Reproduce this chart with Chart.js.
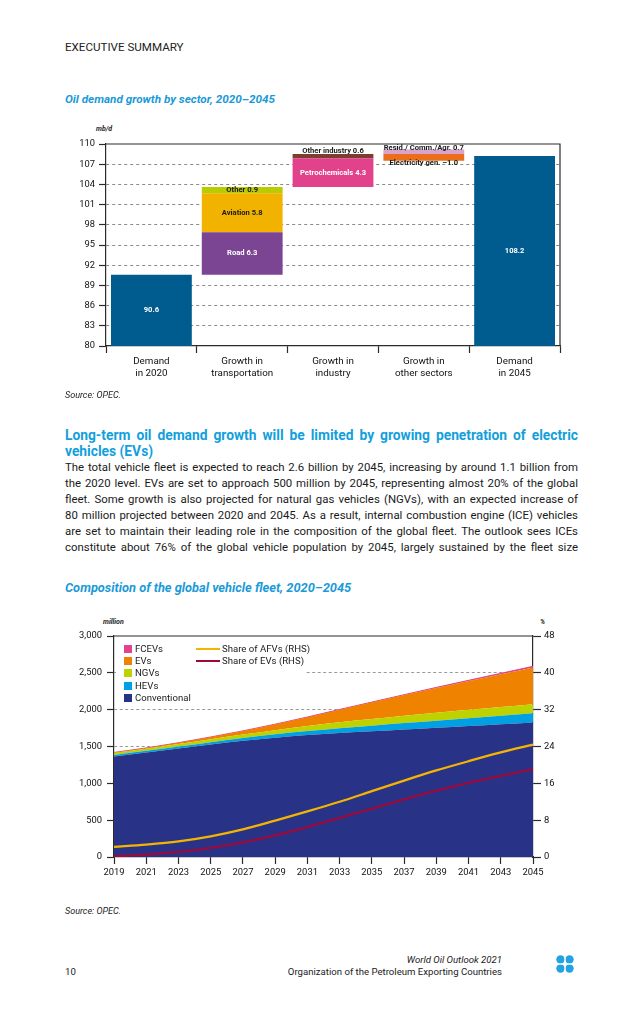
<!DOCTYPE html>
<html><head><meta charset="utf-8">
<script src="https://cdn.jsdelivr.net/npm/chart.js@4.4.1/dist/chart.umd.min.js"></script>
<style>
html,body{margin:0;padding:0;background:#fff;}
body{width:641px;height:1022px;position:relative;overflow:hidden;font-family:Roboto,"Noto Sans",sans-serif;color:#1a1a1a;}
.t{position:absolute;white-space:nowrap;}
.ttl{font-weight:700;font-style:italic;color:#1b9ad8;line-height:14px;}
.src{font-style:italic;font-size:9px;line-height:12px;color:#222;}
.unit{font-style:italic;font-weight:700;font-size:7px;line-height:10px;color:#222;}
.body{position:absolute;left:65px;width:513px;font-size:11.4px;line-height:16px;text-align:justify;text-align-last:justify;color:#1a1a1a;}
.head{position:absolute;left:65px;font-size:13.8px;font-weight:700;line-height:16px;color:#12a0dc;}
#c1wrap{position:absolute;left:0;top:120px;width:641px;height:270px;}
#c2wrap{position:absolute;left:0;top:600px;width:641px;height:290px;}
#legend{position:absolute;left:116px;top:637px;width:190px;height:68px;background:#fff;font-size:9.6px;color:#1a1a1a;}
.li{position:absolute;line-height:12px;white-space:nowrap;}
.sw{position:absolute;width:8px;height:8px;}
.ln{position:absolute;width:24px;height:2.6px;}
</style>
</head><body>
<div class="t" style="left:65px;top:40px;font-size:11.6px;line-height:14px;color:#222;">EXECUTIVE SUMMARY</div>
<div class="t ttl" style="left:65px;top:92px;font-size:11.7px;">Oil demand growth by sector, 2020–2045</div>
<div class="t unit" style="left:96px;top:124px;">mb/d</div>
<div id="c1wrap"><canvas id="c1"></canvas></div>
<div class="t src" style="left:65px;top:389px;">Source: OPEC.</div>

<div class="head" style="top:427px;width:513px;text-align:justify;text-align-last:justify;">Long-term oil demand growth will be limited by growing penetration of electric</div>
<div class="head" style="top:443px;">vehicles (EVs)</div>
<div class="body" style="top:459px;">The total vehicle fleet is expected to reach 2.6 billion by 2045, increasing by around 1.1 billion from</div>
<div class="body" style="top:475px;">the 2020 level. EVs are set to approach 500 million by 2045, representing almost 20% of the global</div>
<div class="body" style="top:491px;">fleet. Some growth is also projected for natural gas vehicles (NGVs), with an expected increase of</div>
<div class="body" style="top:507px;">80 million projected between 2020 and 2045. As a result, internal combustion engine (ICE) vehicles</div>
<div class="body" style="top:523px;">are set to maintain their leading role in the composition of the global fleet. The outlook sees ICEs</div>
<div class="body" style="top:539px;">constitute about 76% of the global vehicle population by 2045, largely sustained by the fleet size</div>

<div class="t ttl" style="left:65px;top:581px;font-size:12.8px;">Composition of the global vehicle fleet, 2020–2045</div>
<div class="t unit" style="left:103px;top:617px;">million</div>
<div class="t unit" style="left:540px;top:617px;">%</div>
<div id="c2wrap"><canvas id="c2"></canvas></div>
<div id="legend"></div>
<div class="t src" style="left:65px;top:905px;">Source: OPEC.</div>

<div class="t" style="right:139px;top:954px;font-size:9.6px;font-style:italic;line-height:12px;color:#222;">World Oil Outlook 2021</div>
<div class="t" style="right:139px;top:966px;font-size:9.6px;line-height:12px;color:#222;">Organization of the Petroleum Exporting Countries</div>
<div class="t" style="left:65px;top:966px;font-size:9.6px;line-height:12px;color:#222;">10</div>
<svg style="position:absolute;left:556px;top:955px;" width="18" height="18" viewBox="0 0 18 18">
 <g fill="#22a3e2"><circle cx="4.5" cy="4.5" r="4.2"/><circle cx="13.5" cy="4.5" r="4.2"/><circle cx="4.5" cy="13.5" r="4.2"/><circle cx="13.5" cy="13.5" r="4.2"/></g>
 <g stroke="#fff" stroke-width="1.2"><line x1="9" y1="0" x2="9" y2="18"/><line x1="0" y1="9" x2="18" y2="9"/></g>
</svg>

<script>
// ---------- Chart 1 data ----------
const categories1 = [['Demand','in 2020'],['Growth in','transportation'],['Growth in','industry'],['Growth in','other sectors'],['Demand','in 2045']];
const yMin1 = 80, yMax1 = 110, yStep1 = 3;
const demand2020 = 90.6;
const demand2045 = 108.2;
const transportNames = ['Road','Aviation','Other'];
const transportValues = [6.3, 5.8, 0.9];
const industryNames = ['Petrochemicals','Other industry'];
const industryValues = [4.3, 0.6];
const otherNames = ['Resid./ Comm./Agr.','Electricity gen.'];
const otherValues = [0.7, -1.0];

// ---------- Chart 2 data ----------
const years = ['2019','2021','2023','2025','2027','2029','2031','2033','2035','2037','2039','2041','2043','2045'];
const conventional = [1364,1418,1473,1527,1577,1620,1655,1684,1707,1731,1755,1779,1803,1827];
const hevs = [22,23,27,32,37,45,55,65,76,87,96,105,114,125];
const ngvs = [28,30,33,40,48,57,68,80,90,100,108,114,119,122];
const evs = [5,9,18,30,50,80,120,171,226,280,336,391,446,500];
const fcevs = [0,0,0,0,0,1,2,3,4,5,7,9,11,14];
const shareAFV = [2.2,2.7,3.4,4.5,6.0,7.9,9.9,12.0,14.3,16.6,18.8,20.8,22.7,24.4];
const shareEV = [0.2,0.5,1.1,2.0,3.2,4.7,6.5,8.5,10.5,12.5,14.4,16.1,17.6,19.1];

const FONT = 'Roboto, "Noto Sans", sans-serif';
const fmt = v => (v < 0 ? '–' + Math.abs(v).toFixed(1) : v.toFixed(1));

// build floating bars for chart 1
function rowFor(idx, range){ const r=[null,null,null,null,null]; r[idx]=range; return r; }
const datasets1 = [];
datasets1.push({data:[[yMin1,demand2020],null,null,null,[yMin1,demand2045]], backgroundColor:'#005b8e',
  lab:{texts:[fmt(demand2020),null,null,null,fmt(demand2045)], color:'#fff', pos:'in'}});
const tColors = ['#7b4594','#f1b300','#b8cc00'];
const tLabColors = ['#fff','#1a1a1a','#1a1a1a'];
let base = demand2020;
transportValues.forEach((v,i)=>{
  datasets1.push({data:rowFor(1,[base, base+v]), backgroundColor:tColors[i],
    lab:{texts:[null,transportNames[i]+' '+fmt(v),null,null,null], color:tLabColors[i], pos:'in'}});
  base += v;
});
const iColors = ['#e1428b','#7c3e2e'];
industryValues.forEach((v,i)=>{
  datasets1.push({data:rowFor(2,[base, base+v]), backgroundColor:iColors[i],
    lab:{texts:[null,null,industryNames[i]+' '+fmt(v),null,null], color: i===0?'#fff':'#1a1a1a', pos: i===0?'in':'above', off:2.7}});
  base += v;
});
const oColors = ['#d9a3cd','#ea6f1b'];
otherValues.forEach((v,i)=>{
  datasets1.push({data:rowFor(3, v>=0 ? [base, base+v] : [base+v, base]), backgroundColor:oColors[i],
    lab:{texts:[null,null,null,otherNames[i]+' '+fmt(v),null], color:'#1a1a1a', pos: v>=0?'above':'below', off: v>=0?1.4:2.2}});
});

const barLabels = {
  id:'barLabels',
  afterDatasetsDraw(chart){
    const ctx = chart.ctx;
    ctx.save();
    ctx.font = 'bold 7.6px ' + FONT;
    ctx.textAlign = 'center'; ctx.textBaseline = 'middle';
    chart.data.datasets.forEach((ds,i)=>{
      const meta = chart.getDatasetMeta(i);
      meta.data.forEach((bar,j)=>{
        const txt = ds.lab.texts[j]; if(!txt) return;
        const p = bar.getProps(['x','y','base'], true);
        const top = Math.min(p.y,p.base), bot = Math.max(p.y,p.base);
        let ty = (top+bot)/2;
        if(ds.lab.pos==='above') ty = top - ds.lab.off;
        if(ds.lab.pos==='below') ty = bot + ds.lab.off;
        ctx.fillStyle = ds.lab.color;
        ctx.fillText(txt, p.x, ty);
      });
    });
    ctx.restore();
  }
};
const frame1 = {
  id:'frame1',
  afterDraw(chart){
    const {ctx, chartArea:a} = chart;
    ctx.save(); ctx.strokeStyle='#2b2b2b'; ctx.lineWidth=1.2;
    ctx.beginPath(); ctx.moveTo(a.left,a.top); ctx.lineTo(a.right,a.top); ctx.lineTo(a.right,a.bottom); ctx.stroke();
    ctx.restore();
  }
};

new Chart(document.getElementById('c1'), {
  type:'bar',
  data:{labels:categories1, datasets:datasets1.map(d=>Object.assign({grouped:false, barPercentage:0.89, categoryPercentage:1, borderWidth:0}, d))},
  options:{
    responsive:true, maintainAspectRatio:false, animation:false,
    layout:{padding:{left:0,right:81,top:24,bottom:0}},
    plugins:{legend:{display:false}, tooltip:{enabled:false}},
    scales:{
      x:{
        afterFit(s){ s.height = 44; },
        grid:{offset:true, drawOnChartArea:false, drawTicks:true, tickLength:7, tickColor:'#2b2b2b', tickWidth:1.2},
        border:{display:true, color:'#2b2b2b', width:1.2},
        ticks:{color:'#111', font:{family:FONT, size:9.8, lineHeight:1.25}, padding:2, maxRotation:0, autoSkip:false}
      },
      y:{
        min:yMin1, max:yMax1,
        afterFit(s){ s.width = 106; },
        ticks:{stepSize:yStep1, color:'#111', font:{family:FONT, size:9.3}, padding:4},
        grid:{color:c => (c.tick && (c.tick.value===yMin1 || c.tick.value===yMax1)) ? 'rgba(0,0,0,0)' : '#8a8a8a',
              lineWidth:1, tickLength:7, tickColor:'#2b2b2b', tickWidth:1.2, tickBorderDash:[]},
        border:{display:true, color:'#2b2b2b', width:1.2, dash:[3,3]}
      }
    }
  },
  plugins:[barLabels, frame1]
});

// ---------- Chart 2 ----------
const frame2 = {
  id:'frame2',
  afterDraw(chart){
    const {ctx, chartArea:a} = chart;
    ctx.save(); ctx.strokeStyle='#2b2b2b'; ctx.lineWidth=1.2;
    ctx.beginPath(); ctx.moveTo(a.left,a.top); ctx.lineTo(a.right,a.top); ctx.stroke();
    ctx.restore();
  }
};
const areaBase = {pointRadius:0, borderWidth:0, cubicInterpolationMode:'monotone', yAxisID:'y', order:1};
new Chart(document.getElementById('c2'), {
  type:'line',
  data:{labels:years, datasets:[
    {label:'Share of AFVs (RHS)', data:shareAFV, yAxisID:'y2', borderColor:'#f4b400', borderWidth:2.3, pointRadius:0, cubicInterpolationMode:'monotone', fill:false, order:0},
    {label:'Share of EVs (RHS)', data:shareEV, yAxisID:'y2', borderColor:'#9a0a3d', borderWidth:2.3, pointRadius:0, cubicInterpolationMode:'monotone', fill:false, order:0},
    Object.assign({label:'Conventional', data:conventional, backgroundColor:'#283388', fill:'origin'}, areaBase),
    Object.assign({label:'HEVs', data:hevs, backgroundColor:'#00a0e2', fill:2}, areaBase),
    Object.assign({label:'NGVs', data:ngvs, backgroundColor:'#bed200', fill:3}, areaBase),
    Object.assign({label:'EVs', data:evs, backgroundColor:'#ef8300', fill:4}, areaBase),
    Object.assign({label:'FCEVs', data:fcevs, backgroundColor:'#e2428f', fill:5}, areaBase, {borderWidth:1, borderColor:'#e2428f'})
  ]},
  options:{
    responsive:true, maintainAspectRatio:false, animation:false,
    layout:{padding:{left:0,right:0,top:36,bottom:0}},
    plugins:{legend:{display:false}, tooltip:{enabled:false}},
    scales:{
      x:{
        offset:false,
        afterFit(s){ s.height = 33; },
        grid:{drawOnChartArea:false, drawTicks:true, tickLength:7, tickColor:'#2b2b2b', tickWidth:1.2},
        border:{display:true, color:'#2b2b2b', width:1.2},
        ticks:{color:'#111', font:{family:FONT, size:9.4}, padding:3, maxRotation:0, autoSkip:false}
      },
      y:{
        stacked:true, min:0, max:3000,
        afterFit(s){ s.width = 114; },
        ticks:{stepSize:500, color:'#111', font:{family:FONT, size:9.4}, padding:5, callback:v=>v.toLocaleString('en-US')},
        grid:{color:c => (c.tick && (c.tick.value===0 || c.tick.value===3000)) ? 'rgba(0,0,0,0)' : '#9a9a9a',
              lineWidth:1, tickLength:7, tickColor:'#2b2b2b', tickWidth:1.2, tickBorderDash:[]},
        border:{display:true, color:'#2b2b2b', width:1.2, dash:[3,2.5]}
      },
      y2:{
        position:'right', min:0, max:48,
        afterFit(s){ s.width = 108; },
        ticks:{stepSize:8, color:'#111', font:{family:FONT, size:9.4}, padding:3},
        grid:{drawOnChartArea:false, tickLength:8, tickColor:'#2b2b2b', tickWidth:1.2},
        border:{display:true, color:'#2b2b2b', width:1.2}
      }
    }
  },
  plugins:[frame2]
});

// HTML legend for chart 2
const legendAreas = [['FCEVs','#e2428f'],['EVs','#ef8300'],['NGVs','#bed200'],['HEVs','#00a0e2'],['Conventional','#283388']];
const legendLines = [['Share of AFVs (RHS)','#f4b400'],['Share of EVs (RHS)','#9a0a3d']];
const lg = document.getElementById('legend');
let html = '';
legendAreas.forEach((it,i)=>{
  const cy = 12 + i*12.2;
  html += `<div class="sw" style="left:8px;top:${cy-4}px;background:${it[1]}"></div>`;
  html += `<div class="li" style="left:19px;top:${cy-6}px">${it[0]}</div>`;
});
legendLines.forEach((it,i)=>{
  const cy = 12 + i*12.2;
  html += `<div class="ln" style="left:80px;top:${cy-1.3}px;background:${it[1]}"></div>`;
  html += `<div class="li" style="left:106px;top:${cy-6}px">${it[0]}</div>`;
});
lg.innerHTML = html;
</script>
</body></html>
